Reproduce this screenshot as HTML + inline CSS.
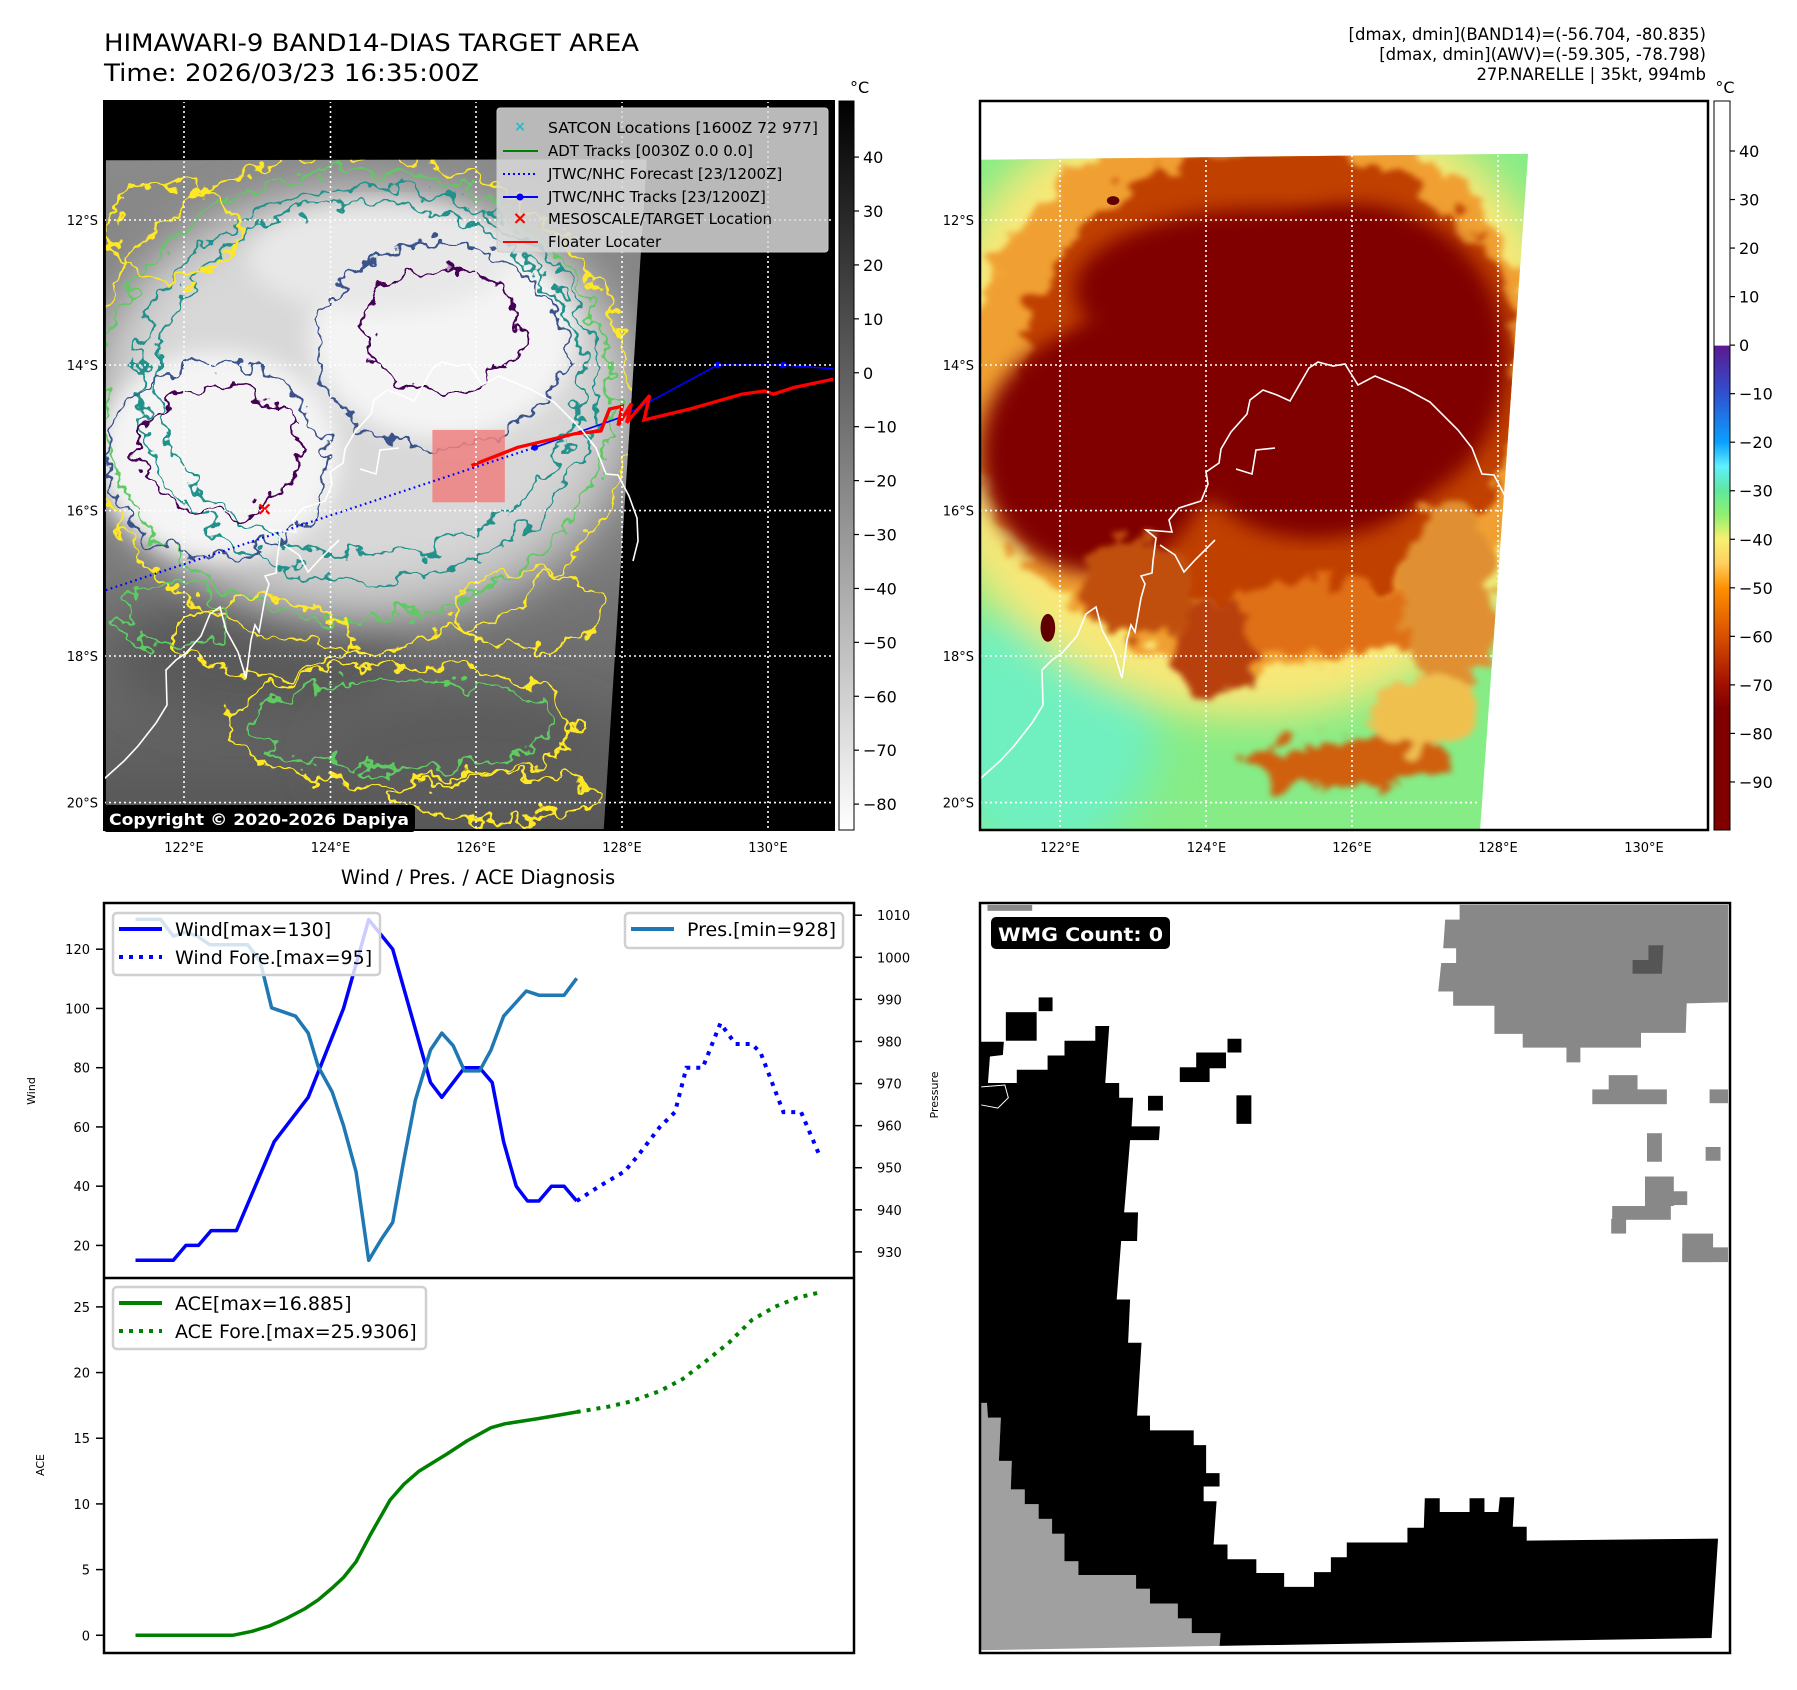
<!DOCTYPE html>
<html><head><meta charset="utf-8">
<style>
html,body{margin:0;padding:0;background:#fff;}
svg{display:block;font-family:"DejaVu Sans","Liberation Sans",sans-serif;}
</style></head>
<body>
<svg id="fig" width="1797" height="1690" viewBox="0 0 1797 1690" xmlns="http://www.w3.org/2000/svg">
<defs>
  <filter id="wig" x="-20%" y="-20%" width="140%" height="140%">
    <feTurbulence type="fractalNoise" baseFrequency="0.025" numOctaves="3" seed="4"/>
    <feDisplacementMap in="SourceGraphic" scale="70" xChannelSelector="R" yChannelSelector="G"/>
  </filter>
  <filter id="wig2" x="-20%" y="-20%" width="140%" height="140%">
    <feTurbulence type="fractalNoise" baseFrequency="0.02" numOctaves="3" seed="9"/>
    <feDisplacementMap in="SourceGraphic" scale="90" xChannelSelector="R" yChannelSelector="G"/>
    <feGaussianBlur stdDeviation="6"/>
  </filter>
  <filter id="blur20"><feGaussianBlur stdDeviation="20"/></filter>
  <filter id="blur40" x="-30%" y="-30%" width="160%" height="160%"><feGaussianBlur stdDeviation="40"/></filter>
  <linearGradient id="grayCb" x1="0" y1="0" x2="0" y2="1">
    <stop offset="0" stop-color="#000"/><stop offset="1" stop-color="#fff"/>
  </linearGradient>
  <linearGradient id="grayBase" x1="0" y1="0" x2="0" y2="1">
    <stop offset="0" stop-color="#8a8a8a"/><stop offset="0.6" stop-color="#7a7a7a"/><stop offset="1" stop-color="#555"/>
  </linearGradient>
  <linearGradient id="awvCb" x1="0" y1="0" x2="0" y2="1">
    <stop offset="0" stop-color="#fff"/><stop offset="0.335" stop-color="#fff"/>
    <stop offset="0.336" stop-color="#5b1a8f"/><stop offset="0.401" stop-color="#3050d0"/>
    <stop offset="0.468" stop-color="#0aa0ff"/><stop offset="0.501" stop-color="#5ff0ff"/>
    <stop offset="0.534" stop-color="#60e8a0"/><stop offset="0.568" stop-color="#90f070"/>
    <stop offset="0.601" stop-color="#f8f070"/><stop offset="0.634" stop-color="#ffd060"/>
    <stop offset="0.668" stop-color="#ff9000"/><stop offset="0.734" stop-color="#d85000"/>
    <stop offset="0.801" stop-color="#a01000"/><stop offset="0.834" stop-color="#800000"/>
    <stop offset="1" stop-color="#800000"/>
  </linearGradient>
  <clipPath id="satClipL"><polygon points="184,292 1125,290 1050,1510 184,1510"/></clipPath>
  <clipPath id="satClipR"><polygon points="0,140 1050,128 958,1486 0,1486"/></clipPath>
  <clipPath id="mapClipL"><rect x="104" y="101" width="730" height="729"/></clipPath>
  <clipPath id="mapClipR"><rect x="980" y="101" width="728" height="729"/></clipPath>
  <g id="coast" fill="none" stroke="#fff" stroke-width="1.6">
    <polyline points="980,779 1000,761 1014,746 1032,723 1043,705 1042,670 1052,660 1062,653 1077,636 1086,614 1096,607 1102,630 1114,652 1122,678 1127,640 1131,625 1135,632 1141,598 1145,584 1141,576 1152,573 1153,561 1156,538 1146,530 1172,532 1169,520 1179,508 1201,501 1208,484 1206,472 1219,463 1221,449 1231,432 1247,414 1250,400 1263,390 1277,395 1290,401 1309,368 1318,362 1333,366 1345,364 1358,385 1375,376 1406,389 1430,402 1458,430 1472,448 1482,474 1494,475 1505,496 1513,518 1514,541 1509,561"/>
    <polyline points="1236,469 1252,474 1256,450 1275,448"/>
    <polyline points="1160,545 1175,555 1184,572 1195,560 1215,540"/>
  </g>
</defs>

<!-- ============ TITLES ============ -->
<text x="104" y="51" font-size="24" textLength="535" lengthAdjust="spacingAndGlyphs" fill="#000">HIMAWARI-9 BAND14-DIAS TARGET AREA</text>
<text x="104" y="81" font-size="24" textLength="375" lengthAdjust="spacingAndGlyphs" fill="#000">Time: 2026/03/23 16:35:00Z</text>
<g font-size="16.5" text-anchor="end" fill="#000">
  <text x="1706" y="40">[dmax, dmin](BAND14)=(-56.704, -80.835)</text>
  <text x="1706" y="60">[dmax, dmin](AWV)=(-59.305, -78.798)</text>
  <text x="1706" y="80">27P.NARELLE | 35kt, 994mb</text>
</g>

<!-- ============ LEFT MAP (BAND14) ============ -->
<g>
  <rect x="104" y="101" width="730" height="729" fill="#000"/>
  <g clip-path="url(#mapClipL)">
    <g transform="scale(0.575,0.549)">
      <g clip-path="url(#satClipL)">
        <rect x="180" y="280" width="960" height="1240" fill="url(#grayBase)"/>
        <ellipse cx="450" cy="1200" rx="260" ry="120" fill="#5a5a5a" filter="url(#blur40)"/>
        <ellipse cx="820" cy="1380" rx="260" ry="110" fill="#5c5c5c" filter="url(#blur40)"/>
        <ellipse cx="630" cy="740" rx="480" ry="400" fill="#bdbdbd" filter="url(#blur40)"/>
        <ellipse cx="630" cy="720" rx="420" ry="340" fill="#d8d8d8" filter="url(#blur40)"/>
        <ellipse cx="380" cy="830" rx="210" ry="190" fill="#f4f4f4" filter="url(#blur20)"/>
        <ellipse cx="770" cy="610" rx="230" ry="190" fill="#f4f4f4" filter="url(#blur20)"/>
        <ellipse cx="660" cy="470" rx="230" ry="100" fill="#e8e8e8" filter="url(#blur20)"/>
        <g fill="none" stroke-width="5" filter="url(#wig)">
          <ellipse cx="620" cy="730" rx="480" ry="450" stroke="#fde725"/>
          <ellipse cx="620" cy="720" rx="445" ry="410" stroke="#5ec962"/>
          <ellipse cx="640" cy="700" rx="400" ry="360" stroke="#21918c"/>
          <ellipse cx="640" cy="690" rx="370" ry="320" stroke="#21918c"/>
          <ellipse cx="375" cy="840" rx="190" ry="175" stroke="#3b528b"/>
          <ellipse cx="765" cy="630" rx="215" ry="185" stroke="#3b528b"/>
          <ellipse cx="380" cy="820" rx="140" ry="120" stroke="#440154"/>
          <ellipse cx="770" cy="600" rx="140" ry="110" stroke="#440154"/>
          <ellipse cx="700" cy="1320" rx="300" ry="110" stroke="#fde725"/>
          <ellipse cx="700" cy="1320" rx="260" ry="80" stroke="#5ec962"/>
          <ellipse cx="460" cy="1160" rx="150" ry="70" stroke="#fde725"/>
          <ellipse cx="920" cy="1110" rx="130" ry="70" stroke="#fde725"/>
          <ellipse cx="300" cy="420" rx="110" ry="90" stroke="#fde725"/>
          <ellipse cx="300" cy="1120" rx="90" ry="60" stroke="#5ec962"/>
          <ellipse cx="860" cy="1450" rx="180" ry="40" stroke="#fde725"/>
        </g>
      </g>
      <rect x="752" y="783" width="126" height="132" fill="#f08080" fill-opacity="0.85"/>
      <polyline points="184,1075 930,815" fill="none" stroke="#0000ff" stroke-width="4" stroke-dasharray="3,6"/>
      <polyline points="930,815 1080,760 1248,665 1362,665 1452,672" fill="none" stroke="#0000ff" stroke-width="3"/>
      <circle cx="930" cy="815" r="6" fill="#0000ff"/><circle cx="1248" cy="665" r="6" fill="#0000ff"/><circle cx="1362" cy="665" r="6" fill="#0000ff"/>
      <polyline points="820,848 900,815 1000,790 1045,785 1060,745 1082,740 1075,775 1098,735 1090,770 1130,720 1120,765 1200,745 1290,718 1330,712 1345,718 1380,706 1452,690" fill="none" stroke="#ff0000" stroke-width="6"/>
      <text x="460" y="938" font-size="34" font-weight="bold" fill="#ff0000" text-anchor="middle">×</text>
    </g>
    <use href="#coast" transform="translate(-876,0)"/>
    <g stroke="#fff" stroke-width="1.6" stroke-dasharray="2,3">
      <line x1="184" y1="101" x2="184" y2="830"/><line x1="330.5" y1="101" x2="330.5" y2="830"/>
      <line x1="476" y1="101" x2="476" y2="830"/><line x1="622" y1="101" x2="622" y2="830"/>
      <line x1="768" y1="101" x2="768" y2="830"/>
      <line x1="104" y1="220" x2="834" y2="220"/><line x1="104" y1="365" x2="834" y2="365"/>
      <line x1="104" y1="510.6" x2="834" y2="510.6"/><line x1="104" y1="656" x2="834" y2="656"/>
      <line x1="104" y1="802.6" x2="834" y2="802.6"/>
    </g>
  </g>
  <g>
    <rect x="497" y="108" width="331" height="144" rx="3" fill="#d9d9d9" fill-opacity="0.85" stroke="#ccc"/>
    <g font-size="15" fill="#000">
      <text x="520" y="131" font-size="14" fill="#17becf" text-anchor="middle" font-weight="bold">×</text>
      <text x="548" y="133" textLength="270" lengthAdjust="spacingAndGlyphs">SATCON Locations [1600Z 72 977]</text>
      <line x1="503" y1="151" x2="538" y2="151" stroke="#008000" stroke-width="2"/>
      <text x="548" y="156">ADT Tracks [0030Z 0.0 0.0]</text>
      <line x1="503" y1="174" x2="538" y2="174" stroke="#0000ff" stroke-width="2" stroke-dasharray="2,3"/>
      <text x="548" y="179">JTWC/NHC Forecast [23/1200Z]</text>
      <line x1="503" y1="197" x2="538" y2="197" stroke="#0000ff" stroke-width="2"/><circle cx="520" cy="197" r="3.5" fill="#0000ff"/>
      <text x="548" y="202">JTWC/NHC Tracks [23/1200Z]</text>
      <text x="520" y="224" font-size="18" fill="#ff0000" text-anchor="middle" font-weight="bold">×</text>
      <text x="548" y="224">MESOSCALE/TARGET Location</text>
      <line x1="503" y1="242" x2="538" y2="242" stroke="#ff0000" stroke-width="2"/>
      <text x="548" y="247">Floater Locater</text>
    </g>
  </g>
  <rect x="104" y="805" width="311" height="27" rx="3" fill="#000"/>
  <text x="109" y="825" font-size="16" font-weight="bold" fill="#fff" textLength="300" lengthAdjust="spacingAndGlyphs">Copyright © 2020-2026 Dapiya</text>
  <rect x="104" y="101" width="730" height="729" fill="none" stroke="#000" stroke-width="2"/>
</g>

<g>
  <rect x="839" y="101" width="15" height="729" fill="url(#grayCb)" stroke="#000" stroke-width="1"/>
  <text x="850" y="93" font-size="16">°C</text>
  <g id="cbLticks" font-size="16"></g>
</g>

<!-- ============ RIGHT MAP (AWV) ============ -->
<g>
  <rect x="980" y="101" width="728" height="729" fill="#fff"/>
  <g clip-path="url(#mapClipR)">
    <g transform="translate(980,90) scale(0.522,0.498)">
      <g clip-path="url(#satClipR)">
        <rect x="0" y="120" width="1060" height="1380" fill="#86ec86"/>
        <ellipse cx="120" cy="1280" rx="220" ry="260" fill="#70f0c0" filter="url(#blur40)"/>
        <ellipse cx="520" cy="620" rx="640" ry="640" fill="#f8e878" filter="url(#blur40)"/>
        <ellipse cx="530" cy="600" rx="560" ry="560" fill="#f0a030" filter="url(#wig2)"/>
        <ellipse cx="560" cy="580" rx="480" ry="470" fill="#c04000" filter="url(#wig2)"/>
        <ellipse cx="720" cy="540" rx="290" ry="310" fill="#800000" filter="url(#blur20)"/>
        <ellipse cx="540" cy="400" rx="360" ry="160" fill="#800000" filter="url(#blur20)"/>
        <ellipse cx="220" cy="730" rx="220" ry="240" fill="#800000" filter="url(#blur20)"/>
        <ellipse cx="380" cy="620" rx="260" ry="210" fill="#800000" filter="url(#blur20)"/>
        <ellipse cx="640" cy="780" rx="200" ry="120" fill="#800000" filter="url(#blur20)"/>
        <g filter="url(#wig2)">
          <ellipse cx="650" cy="1060" rx="230" ry="70" fill="#e07018"/>
          <ellipse cx="700" cy="1350" rx="200" ry="50" fill="#d06010"/>
          <ellipse cx="450" cy="1120" rx="80" ry="100" fill="#b84010"/>
          <ellipse cx="900" cy="1020" rx="90" ry="200" fill="#e09030"/>
          <ellipse cx="300" cy="1000" rx="110" ry="100" fill="#c05010"/>
          <ellipse cx="850" cy="1250" rx="100" ry="80" fill="#f0c050"/>
        </g>
        <ellipse cx="130" cy="1080" rx="14" ry="28" fill="#600000"/>
        <ellipse cx="255" cy="222" rx="12" ry="9" fill="#600000"/>
      </g>
    </g>
    <use href="#coast"/>
    <g stroke="#fff" stroke-width="1.6" stroke-dasharray="2,3">
      <line x1="1060" y1="155" x2="1060" y2="830"/><line x1="1206" y1="155" x2="1206" y2="830"/>
      <line x1="1352" y1="155" x2="1352" y2="830"/><line x1="1498" y1="155" x2="1498" y2="830"/>
      <line x1="980" y1="220" x2="1530" y2="220"/><line x1="980" y1="365" x2="1520" y2="365"/>
      <line x1="980" y1="510.6" x2="1510" y2="510.6"/><line x1="980" y1="656" x2="1500" y2="656"/>
      <line x1="980" y1="802.6" x2="1480" y2="802.6"/>
    </g>
  </g>
  <rect x="980" y="101" width="728" height="729" fill="none" stroke="#000" stroke-width="2.5"/>
</g>
<g>
  <rect x="1714" y="101" width="16" height="729" fill="url(#awvCb)" stroke="#000" stroke-width="1"/>
  <text x="1725" y="93" font-size="16" text-anchor="middle">°C</text>
  <g id="cbRticks" font-size="16"></g>
</g>

<g id="mapLabels" font-size="13" fill="#000"></g>

<!-- ============ WIND / PRES / ACE CHART ============ -->
<text x="478" y="884" font-size="19.5" text-anchor="middle">Wind / Pres. / ACE Diagnosis</text>
<g id="chart"></g>

<!-- ============ WMG PANEL ============ -->
<g>
  <rect x="980" y="903" width="750" height="750" fill="#fff"/>
  <g transform="translate(980,900) scale(0.497,0.492)">
    <rect x="15" y="10" width="90" height="12" fill="#888"/>
    <polygon fill="#888" points="965,10 1505,10 1505,208 1422,210 1420,270 1330,270 1330,300 1208,300 1208,330 1180,330 1180,300 1092,300 1092,272 1035,272 1035,215 952,215 952,186 922,186 928,128 958,128 958,98 932,98 936,40 965,40"/>
    <polygon fill="#555" points="1345,92 1375,92 1372,150 1313,150 1313,122 1345,122"/>
    <g fill="#888">
      <rect x="1232" y="385" width="150" height="30"/><rect x="1265" y="356" width="58" height="32"/>
      <rect x="1468" y="385" width="37" height="28"/><rect x="1342" y="474" width="30" height="58"/>
      <rect x="1460" y="502" width="30" height="28"/><rect x="1338" y="562" width="58" height="60"/>
      <rect x="1338" y="592" width="85" height="28"/><rect x="1272" y="622" width="118" height="28"/>
      <rect x="1270" y="648" width="30" height="30"/><rect x="1413" y="678" width="62" height="58"/>
      <rect x="1413" y="706" width="92" height="30"/>
    </g>
    <polygon fill="#a0a0a0" points="0,1022 14,1022 16,1052 42,1052 38,1140 64,1140 62,1198 90,1198 90,1228 118,1228 118,1258 145,1258 145,1288 170,1288 170,1344 198,1344 198,1372 314,1372 314,1400 342,1400 342,1430 398,1430 398,1460 426,1460 426,1490 484,1490 482,1516 0,1525"/>
    <polygon fill="#000" points="0,288 48,288 46,315 20,318 16,372 74,372 74,345 136,345 136,316 170,316 170,286 232,286 232,256 260,256 252,372 280,372 280,402 308,402 305,460 362,460 360,488 302,488 290,635 318,635 316,693 284,693 275,812 302,812 298,900 325,900 316,1048 342,1048 342,1078 430,1078 430,1108 455,1108 455,1165 482,1165 482,1192 450,1192 450,1222 476,1222 470,1310 498,1310 498,1340 556,1340 556,1368 612,1368 612,1396 672,1396 672,1366 706,1366 706,1336 738,1336 738,1306 860,1306 860,1276 893,1276 895,1216 925,1216 925,1244 985,1244 985,1216 1015,1216 1015,1244 1043,1244 1046,1214 1075,1214 1072,1274 1100,1274 1100,1302 1485,1298 1472,1500 482,1516 484,1490 426,1490 426,1460 398,1460 398,1430 342,1430 342,1400 314,1400 314,1372 198,1372 198,1344 170,1344 170,1288 145,1288 145,1258 118,1258 118,1228 90,1228 90,1198 62,1198 64,1140 38,1140 42,1052 16,1052 14,1022 0,1022"/>
    <g fill="#000">
      <rect x="118" y="198" width="28" height="28"/><rect x="52" y="228" width="62" height="58"/>
      <rect x="498" y="282" width="28" height="28"/><rect x="435" y="310" width="60" height="32"/>
      <rect x="402" y="340" width="60" height="30"/><rect x="338" y="398" width="30" height="30"/>
      <rect x="516" y="397" width="30" height="58"/>
    </g>
    <polyline points="0,380 50,376 57,402 36,423 0,416" fill="none" stroke="#fff" stroke-width="2"/>
  </g>
  <rect x="991" y="917" width="179" height="32" rx="5" fill="#000"/>
  <text x="998" y="941" font-size="19" font-weight="bold" fill="#fff" textLength="165" lengthAdjust="spacingAndGlyphs">WMG Count: 0</text>
  <rect x="980" y="903" width="750" height="750" fill="none" stroke="#000" stroke-width="2.5"/>
</g>

<script>
// ---------- chart data ----------
const windT = [0,3,4,5,6,8,11,13.7,16.5,18.5,20.4,23.4,24.3,26.1,27.3,28.3,29.2,30.2,31.1,32,33,34,35];
const windV = [15,15,20,20,25,25,55,70,100,130,120,75,70,80,80,75,55,40,35,35,40,40,35];
const windFcT = [35,36.8,38.8,39.8,41.6,42.8,43.7,45,46.4,47.6,48.9,49.6,51.4,52.8,54.3];
const windFcV = [35,40,45,50,60,65,80,80,95,88,88,85,65,65,50];
const presT = [0,2,3,4,4.9,5.9,8.9,9.9,10.8,12.7,13.7,14.5,15.6,16.5,17.5,18.5,19.5,20.4,21.3,22.2,23.4,24.3,25.2,26.1,27.3,28.2,29.2,31,32,34,35];
const presV = [1009,1009,1005,1006,1005,1003,1003,999,988,986,982,974,968,960,949,928,933,937,952,966,978,982,979,973,973,978,986,992,991,991,995];
const aceT = [0,7.7,9.25,10.6,12,13.4,14.5,15.6,16.5,17.5,18.6,20.2,21.3,22.5,24.7,26.3,28.2,29.3,32,35];
const aceV = [0,0,0.3,0.7,1.3,2.0,2.7,3.6,4.4,5.6,7.6,10.3,11.5,12.5,13.8,14.8,15.8,16.1,16.5,17.0];
const aceFcT = [35,37.5,39.3,41.6,43.4,45.3,47.1,48.9,50.7,52.5,54.3];
const aceFcV = [17.0,17.4,17.8,18.6,19.5,20.9,22.3,24.0,25.0,25.7,26.1];
const windTicks = [20,40,60,80,100,120];
const presTicks = [930,940,950,960,970,980,990,1000,1010];
const aceTicks = [0,5,10,15,20,25];
const cbLTicks = [40,30,20,10,0,-10,-20,-30,-40,-50,-60,-70,-80];
const cbRTicks = [40,30,20,10,0,-10,-20,-30,-40,-50,-60,-70,-80,-90];
const latLabels = ['12°S','14°S','16°S','18°S','20°S'];
const lonLabels = ['122°E','124°E','126°E','128°E','130°E'];

const NS = 'http://www.w3.org/2000/svg';
function mk(tag, attrs, parent){ const e=document.createElementNS(NS,tag); for(const k in attrs) e.setAttribute(k,attrs[k]); parent.appendChild(e); return e; }
function fmt(v){ return v<0 ? '\u2212'+Math.abs(v) : String(v); }

const X0=104, X1=854, TOP=903, MID=1278, BOT=1653;
const tMin=-2.5, tMax=57.0;
const xS = t => X0 + (t - tMin)/(tMax - tMin)*(X1-X0);
const wMin=9.0, wMax=135.6, pMin=923.8, pMax=1012.9, aMin=-1.35, aMax=27.2;
const wy = v => TOP + (wMax - v)/(wMax - wMin)*(MID-TOP);
const py = v => TOP + (pMax - v)/(pMax - pMin)*(MID-TOP);
const ay = v => MID + (aMax - v)/(aMax - aMin)*(BOT-MID);
function pts(ts, vs, f){ return ts.map((t,i)=>xS(t).toFixed(1)+','+f(vs[i]).toFixed(1)).join(' '); }

const chart = document.getElementById('chart');
mk('rect',{x:X0,y:TOP,width:X1-X0,height:BOT-TOP,fill:'#fff',stroke:'none'},chart);
let l;
l = mk('polyline',{points:pts(windT,windV,wy),fill:'none',stroke:'#0000ff','stroke-width':3.5,'stroke-linejoin':'round'},chart);


l = mk('polyline',{points:pts(windFcT,windFcV,wy),fill:'none',stroke:'#0000ff','stroke-width':4,'stroke-dasharray':'4,6'},chart);


l = mk('polyline',{points:pts(presT,presV,py),fill:'none',stroke:'#1f77b4','stroke-width':3.5,'stroke-linejoin':'round'},chart);


l = mk('polyline',{points:pts(aceT,aceV,ay),fill:'none',stroke:'#008000','stroke-width':3.5,'stroke-linejoin':'round'},chart);


l = mk('polyline',{points:pts(aceFcT,aceFcV,ay),fill:'none',stroke:'#008000','stroke-width':4,'stroke-dasharray':'4,6'},chart);



windTicks.forEach(v=>{
  const y=wy(v);
  mk('line',{x1:X0-8,y1:y,x2:X0,y2:y,stroke:'#000','stroke-width':1.5},chart);
  const t=mk('text',{x:X0-14,y:y+5,'font-size':13,'text-anchor':'end'},chart); t.textContent=v;
  
  
});
presTicks.forEach(v=>{
  const y=py(v);
  mk('line',{x1:X1,y1:y,x2:X1+8,y2:y,stroke:'#000','stroke-width':1.5},chart);
  const t=mk('text',{x:X1+23,y:y+5,'font-size':13},chart); t.textContent=v;
  
  
});
aceTicks.forEach(v=>{
  const y=ay(v);
  mk('line',{x1:X0-8,y1:y,x2:X0,y2:y,stroke:'#000','stroke-width':1.5},chart);
  const t=mk('text',{x:X0-14,y:y+5,'font-size':13,'text-anchor':'end'},chart); t.textContent=v;
  
  
});
let at = mk('text',{x:0,y:0,'font-size':11,'text-anchor':'middle',transform:'translate(35,1091) rotate(-90)'},chart); at.textContent='Wind';


at = mk('text',{x:0,y:0,'font-size':11,'text-anchor':'middle',transform:'translate(44,1465) rotate(-90)'},chart); at.textContent='ACE';


at = mk('text',{x:0,y:0,'font-size':11,'text-anchor':'middle',transform:'translate(938,1095) rotate(-90)'},chart); at.textContent='Pressure';



function legend(x,y,w,h,rows,name){
  const g=mk('g',{},chart);
  
  
  mk('rect',{x:x,y:y,width:w,height:h,rx:4,fill:'#fff','fill-opacity':0.8,stroke:'#d0d0d0','stroke-width':2.5},g);
  rows.forEach((r,i)=>{
    const yy=y+16+i*28;
    const a={x1:x+6,y1:yy,x2:x+49,y2:yy,stroke:r.c,'stroke-width':4};
    if(r.d) a['stroke-dasharray']='4,6';
    mk('line',a,g);
    const t=mk('text',{x:x+62,y:yy+7,'font-size':19},g); t.textContent=r.t;
  });
}
legend(113,913,267,62,[{c:'#0000ff',t:'Wind[max=130]'},{c:'#0000ff',t:'Wind Fore.[max=95]',d:1}],'wind-legend');
legend(625,913,218,35,[{c:'#1f77b4',t:'Pres.[min=928]'}],'pressure-legend');
legend(113,1287,313,62,[{c:'#008000',t:'ACE[max=16.885]'},{c:'#008000',t:'ACE Fore.[max=25.9306]',d:1}],'ace-legend');

mk('rect',{x:X0,y:TOP,width:X1-X0,height:BOT-TOP,fill:'none',stroke:'#000','stroke-width':2.5},chart);
mk('line',{x1:X0,y1:MID,x2:X1,y2:MID,stroke:'#000','stroke-width':2.5},chart);

const cbL=document.getElementById('cbLticks');
cbLTicks.forEach(v=>{
  const y=101+(50.4-v)/135.2*729;
  mk('line',{x1:854,y1:y,x2:859,y2:y,stroke:'#000','stroke-width':1.2},cbL);
  const t=mk('text',{x:863,y:y+6},cbL); t.textContent=fmt(v);
  
  
});
const cbR=document.getElementById('cbRticks');
cbRTicks.forEach(v=>{
  const y=101+(50.3-v)/150.2*729;
  mk('line',{x1:1730,y1:y,x2:1735,y2:y,stroke:'#000','stroke-width':1.2},cbR);
  const t=mk('text',{x:1739,y:y+6},cbR); t.textContent=fmt(v);
  
  
});
const ml=document.getElementById('mapLabels');
const latY=[220,365,510.6,656,802.6], lonX=[184,330.5,476,622,768];
latLabels.forEach((s,i)=>{
  [98,974].forEach(x=>{
    const t=mk('text',{x:x,y:latY[i]+5,'text-anchor':'end'},ml); t.textContent=s;
    
    
  });
});
lonLabels.forEach((s,i)=>{
  [0,876].forEach(dx=>{
    const t=mk('text',{x:lonX[i]+dx,y:852,'text-anchor':'middle'},ml); t.textContent=s;
    
    
  });
});
</script>
</svg>
</body></html>
